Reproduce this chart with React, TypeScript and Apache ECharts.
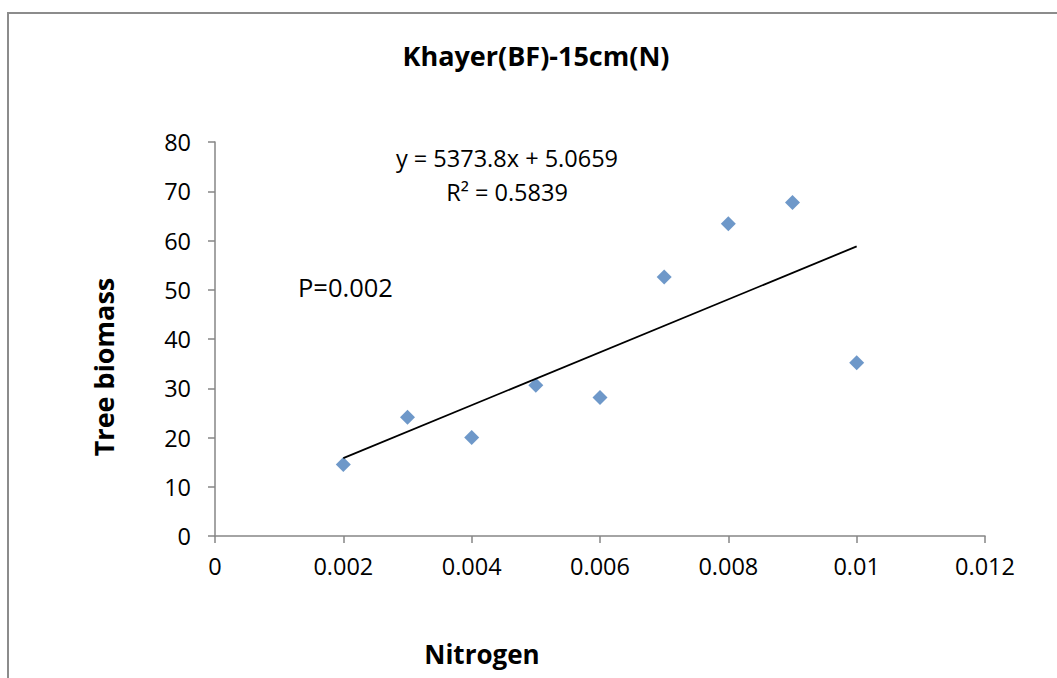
import React, { useEffect, useRef } from "react";
import * as echarts from "echarts";

const nitrogen = [0.002, 0.003, 0.004, 0.005, 0.006, 0.007, 0.008, 0.009, 0.01];
const biomass = [14.5, 24.1, 20.0, 30.6, 28.1, 52.6, 63.4, 67.7, 35.2];
const xTickLabels = ["0", "0.002", "0.004", "0.006", "0.008", "0.01", "0.012"];
const yTickLabels = ["0", "10", "20", "30", "40", "50", "60", "70", "80"];
const slope = 5373.8;
const intercept = 5.0659;
const rSquared = "0.5839";
const pValue = "P=0.002";
const chartTitle = "Khayer(BF)-15cm(N)";
const xName = "Nitrogen";
const yName = "Tree biomass";

const FONT = "'Open Sans', 'Noto Sans', sans-serif";

export default function App() {
  const ref = useRef<HTMLDivElement>(null);
  useEffect(() => {
    if (!ref.current) return;
    const chart = echarts.init(ref.current, null, { renderer: "svg" });
    const xMin = nitrogen[0];
    const xMax = nitrogen[nitrogen.length - 1];
    const trend = [
      [xMin, slope * xMin + intercept],
      [xMax, slope * xMax + intercept],
    ];
    chart.setOption({
      animation: false,
      backgroundColor: "#ffffff",
      grid: { left: 215, top: 142, right: 72, bottom: 142 },
      xAxis: {
        type: "value",
        min: 0,
        max: 0.012,
        interval: 0.002,
        axisLine: { show: true, lineStyle: { color: "#868686", width: 1.5 } },
        axisTick: { show: true, length: 7, lineStyle: { color: "#868686", width: 1.5 } },
        splitLine: { show: false },
        axisLabel: {
          margin: 18,
          color: "#000",
          fontSize: 23.5,
          fontFamily: FONT,
          formatter: (v: number) => xTickLabels[Math.round(v / 0.002)] ?? String(v),
        },
      },
      yAxis: {
        type: "value",
        min: 0,
        max: 80,
        interval: 10,
        axisLine: { show: true, lineStyle: { color: "#868686", width: 1.5 } },
        axisTick: { show: true, length: 7, lineStyle: { color: "#868686", width: 1.5 } },
        splitLine: { show: false },
        axisLabel: {
          margin: 24,
          color: "#000",
          fontSize: 23.5,
          fontFamily: FONT,
          formatter: (v: number) => yTickLabels[Math.round(v / 10)] ?? String(v),
        },
      },
      series: [
        {
          type: "scatter",
          symbol: "diamond",
          symbolSize: 15,
          itemStyle: { color: "#4A7EBB" },
          data: nitrogen.map((x, i) => [x, biomass[i]]),
          z: 2,
        },
        {
          type: "line",
          data: trend,
          symbol: "none",
          lineStyle: { color: "#000", width: 1.8 },
          z: 3,
        },
      ],
      graphic: [
        {
          type: "rect",
          shape: { x: 8, y: 13, width: 1200, height: 800 },
          style: { fill: "none", stroke: "#8c8c8c", lineWidth: 2 },
          z: -1,
        },
        {
          type: "text",
          x: 536,
          y: 55,
          style: {
            text: chartTitle,
            align: "center",
            verticalAlign: "middle",
            fontSize: 27,
            fontWeight: "bold",
            fontFamily: FONT,
            fill: "#000",
          },
        },
        {
          type: "text",
          x: 507,
          y: 158,
          style: {
            text: `y = ${slope}x + ${intercept}`,
            align: "center",
            verticalAlign: "middle",
            fontSize: 23.5,
            fontFamily: FONT,
            fill: "#000",
          },
        },
        {
          type: "text",
          x: 507,
          y: 192,
          style: {
            text: `R² = ${rSquared}`,
            align: "center",
            verticalAlign: "middle",
            fontSize: 23.5,
            fontFamily: FONT,
            fill: "#000",
          },
        },
        {
          type: "text",
          x: 298,
          y: 287,
          style: {
            text: pValue,
            align: "left",
            verticalAlign: "middle",
            fontSize: 25.5,
            fontFamily: FONT,
            fill: "#000",
          },
        },
        {
          type: "text",
          x: 103,
          y: 367,
          rotation: Math.PI / 2,
          style: {
            text: yName,
            align: "center",
            verticalAlign: "middle",
            fontSize: 27,
            fontWeight: "bold",
            fontFamily: FONT,
            fill: "#000",
          },
        },
        {
          type: "text",
          x: 482,
          y: 654,
          style: {
            text: xName,
            align: "center",
            verticalAlign: "middle",
            fontSize: 26,
            fontWeight: "bold",
            fontFamily: FONT,
            fill: "#000",
          },
        },
      ],
    });
    return () => chart.dispose();
  }, []);
  return (
    <div
      ref={ref}
      style={{ position: "absolute", left: 0, top: 0, width: 1057, height: 678 }}
    />
  );
}
